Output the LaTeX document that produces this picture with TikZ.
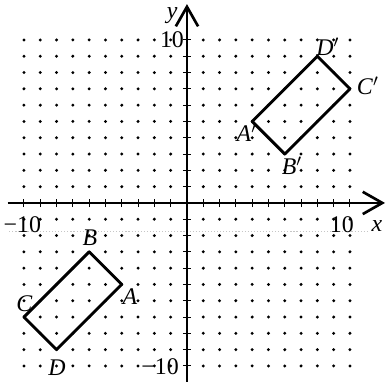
\documentclass[tikz,border=0pt]{standalone}
\usepackage{fontspec}
\setmainfont{Liberation Serif}
\usepackage{tikz}
\usetikzlibrary{arrows.meta, calc}

\tikzset{
  axis/.style={line width=1pt, -{Straight Barb[length=3.6mm, width=4.1mm, line width=1.4pt]}},
  tick/.style={line width=0.5pt},
  figure/.style={line width=1.5pt, line join=round},
  lbl/.style={inner sep=0pt}
}

\begin{document}
\begin{tikzpicture}[x=0.3cm, y=0.3cm, font=\fontsize{12.5}{14}\selectfont]
  \useasboundingbox (-11.47,-10.98) rectangle (12.21,12.45);
  % dot grid
  \foreach \i in {-10,...,-1,1,2,...,10}
    \foreach \j in {-10,...,-1,1,2,...,10}
      \fill (\i,\j) circle (0.1);
  % faint scan line
  \draw[gray!45, densely dotted, line width=0.6pt] (-10.9,-1.75)--(11.1,-1.75);
  % axes
  \coordinate (xl) at (-11,0); \coordinate (xr) at (12.15,0);
  \coordinate (yb) at (0,-11.1); \coordinate (yt) at (0,12.2);
  \draw[axis] (xl)--(xr);
  \draw[axis] (yb)--(yt);
  \foreach \i in {-10,...,-1,1,2,...,10} {
    \draw[tick] (\i,-0.25)--(\i,0.25);
    \draw[tick] (-0.25,\i)--(0.25,\i);
  }
  \node[lbl] (xlab) at (11.65,-1.4) {\textit{x}};
  \node[lbl] (ylab) at (-0.9,11.5) {\textit{y}};
  \node[lbl] (xten) at (9.5,-1.32) {10};
  \node[lbl] (xmten) at (-10.1,-1.35) {−10};
  \node[lbl] (yten) at (-0.92,10.0) {10};
  \node[lbl] (ymten) at (-1.65,-10.06) {−10};
  % rectangle ABCD
  \coordinate (A) at (-4,-5); \coordinate (B) at (-6,-3);
  \coordinate (C) at (-10,-7); \coordinate (D) at (-8,-9);
  \draw[figure] (A)--(B)--(C)--(D)--cycle;
  \node[lbl] (labA) at (-3.5,-5.77) {\textit{A}};
  \node[lbl] (labB) at (-5.95,-2.15) {\textit{B}};
  \node[lbl] (labC) at (-9.97,-6.17) {\textit{C}};
  \node[lbl] (labD) at (-7.98,-10.09) {\textit{D}};
  % image A'B'C'D'
  \coordinate (A') at (4,5); \coordinate (B') at (6,3);
  \coordinate (C') at (10,7); \coordinate (D') at (8,9);
  \draw[figure] (A')--(B')--(C')--(D')--cycle;
  \node[lbl] (labA') at (3.68,4.29) {\textit{A}$'$};
  \node[lbl] (labB') at (6.44,2.27) {\textit{B}$'$};
  \node[lbl] (labC') at (11.1,7.18) {\textit{C}$'$};
  \node[lbl] (labD') at (8.65,9.57) {\textit{D}$'$};
\end{tikzpicture}
\end{document}
